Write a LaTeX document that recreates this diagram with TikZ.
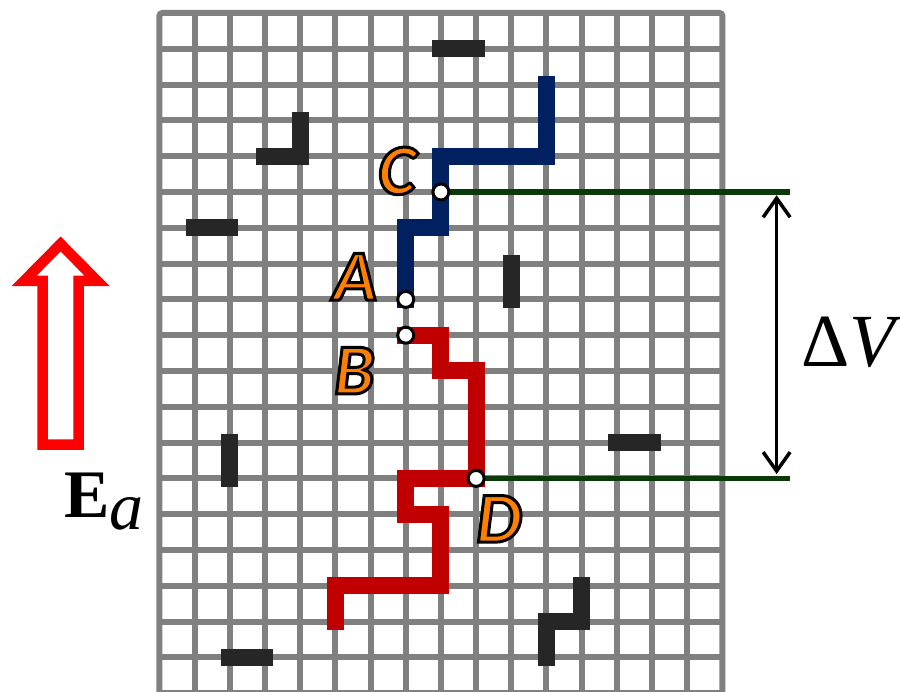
\documentclass[tikz,border=0pt]{standalone}
\usepackage{fontspec}
\usetikzlibrary{arrows.meta}
\newfontfamily\tnr{Liberation Serif}
\newfontfamily\lblfont{Carlito}
\definecolor{gridgray}{HTML}{808080}
\definecolor{bondblack}{HTML}{262626}
\definecolor{pathblue}{HTML}{002060}
\definecolor{pathred}{HTML}{C00000}
\definecolor{levelgreen}{HTML}{0A3A0A}
\definecolor{lblorange}{HTML}{FF8000}
\definecolor{arrowred}{HTML}{FF0000}
\newcommand\outlinedtext[1]{\special{pdf:literal direct 0 0 0 RG 3 w 2 Tr}#1\special{pdf:literal direct 0 Tr}}
\tikzset{
  gridline/.style={draw=gridgray, line width=6pt},
  bond/.style={draw=bondblack, line width=17pt, line cap=rect, line join=miter},
  bluepath/.style={draw=pathblue, line width=17pt, line cap=rect, line join=miter},
  redpath/.style={draw=pathred, line width=17pt, line cap=rect, line join=miter},
  sitedot/.style={circle, draw=black, fill=white, line width=3pt, minimum size=16pt, inner sep=0pt},
  levelline/.style={draw=levelgreen, line width=5.5pt},
  dimarrow/.style={draw=black, line width=3.5pt, {Straight Barb[length=19pt,width=27pt]}-{Straight Barb[length=19pt,width=27pt]}},
  ptlabel/.style={inner sep=0pt, text=lblorange, font=\lblfont\bfseries\itshape\fontsize{72}{80}\selectfont},
  hollowarrow/.style={draw=arrowred, fill=white, line width=10.5pt, line join=miter, miter limit=20}
}
\begin{document}
\begin{tikzpicture}[x=1pt,y=-1pt]
\useasboundingbox (0,0) rectangle (900,692);
\clip (0,0) rectangle (900,692);
\fill[white] (0,0) rectangle (900,692);
\begin{scope}[shift={(159.4pt,-13pt)}, x=35.19pt, y=-35.8pt]
  % grid
  \foreach \i in {1,...,15} \draw[gridline] (\i,0) -- (\i,19.6);
  \foreach \j in {1,...,19} \draw[gridline] (0,\j) -- (16,\j);
  \draw[gridline, rounded corners=3pt] (0,19.6) -- (0,0) -- (16,0) -- (16,19.6);
  % black bonds
  \draw[bond] (8,1) -- (9,1);
  \draw[bond] (3,4) -- (4,4) -- (4,3);
  \draw[bond] (1,6) -- (2,6);
  \draw[bond] (10,7) -- (10,8);
  \draw[bond] (2,12) -- (2,13);
  \draw[bond] (13,12) -- (14,12);
  \draw[bond] (2,18) -- (3,18);
  \draw[bond] (12,16) -- (12,17) -- (11,17) -- (11,18);
  % site points
  \coordinate (pA) at (7,8);
  \coordinate (pB) at (7,9);
  \coordinate (pC) at (8,5);
  \coordinate (pD) at (9,13);
  % blue and red paths
  \draw[bluepath] (11,2) -- (11,4) -- (8,4) -- (8,6) -- (7,6) -- (pA);
  \draw[redpath] (pB) -- (8,9) -- (8,10) -- (9,10) -- (pD) -- (7,13) -- (7,14) -- (8,14) -- (8,16) -- (5,16) -- (5,17);
  % level lines
  \coordinate (Cend) at (17.92,5);
  \coordinate (Dend) at (17.92,13);
  \draw[levelline] (pC) -- (Cend);
  \draw[levelline] (pD) -- (Dend);
  \coordinate (arrTop) at (17.54,5.09);
  \coordinate (arrBot) at (17.54,12.88);
  \draw[dimarrow] (arrTop) -- (arrBot);
  % dots
  \node[sitedot] (A) at (pA) {};
  \node[sitedot] (B) at (pB) {};
  \node[sitedot] (C) at (pC) {};
  \node[sitedot] (D) at (pD) {};
  % labels
  \node[ptlabel] (lblC) at (6.75,4.41) {\outlinedtext{C}};
  \node[ptlabel] (lblA) at (5.56,7.37) {\outlinedtext{A}};
  \node[ptlabel] (lblB) at (5.54,9.99) {\outlinedtext{B}};
  \node[ptlabel] (lblD) at (9.65,14.13) {\outlinedtext{D}};
\end{scope}
% applied field arrow
\draw[hollowarrow] (42.5,444.7) -- (42.5,281) -- (24,281) -- (60.6,244) -- (97.2,281) -- (78.7,281) -- (78.7,444.7) -- cycle;
\node[anchor=base west, inner sep=0pt, font=\tnr\fontsize{68}{80}\selectfont] (Ea) at (64,518) {\textbf{E}\raisebox{-12pt}{\itshape a}};
\node[anchor=base west, inner sep=0pt, font=\tnr\fontsize{75}{85}\selectfont] (dV) at (801,367) {Δ\itshape V};
\end{tikzpicture}
\end{document}
